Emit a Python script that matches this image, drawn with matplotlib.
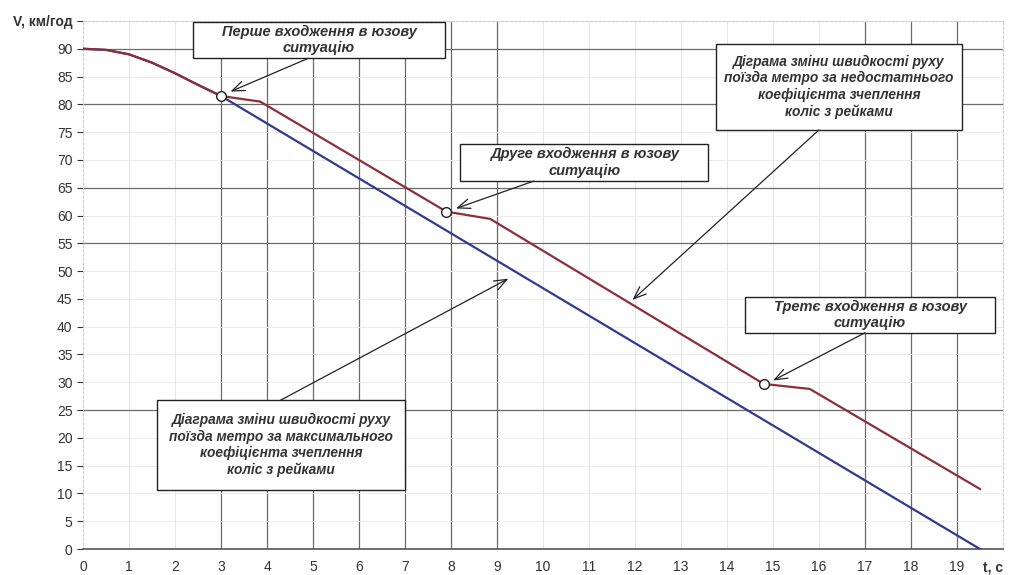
import numpy as np
import matplotlib.pyplot as plt

plt.rcParams['font.family'] = ['Liberation Sans', 'DejaVu Sans']

# швидкість при максимальному коефіцієнті зчеплення
t_max = [0, 0.5, 1, 1.5, 2, 2.5, 3, 19.5]
v_max = [90, 89.8, 89.0, 87.5, 85.6, 83.5, 81.5, 0]

# швидкість при недостатньому коефіцієнті зчеплення
t_low = [0, 0.5, 1, 1.5, 2, 2.5, 3, 3.85, 7.9, 8.85, 14.8, 15.8, 19.5]
v_low = [90, 89.8, 89.0, 87.5, 85.6, 83.5, 81.5, 80.5, 60.7, 59.4, 29.7, 28.8, 10.8]

# моменти входження в юзову ситуацію
t_skid = [3, 7.9, 14.8]
v_skid = [81.5, 60.7, 29.7]

x_ticks = list(range(0, 21))
x_labels = [str(i) for i in range(20)] + ['t, c']
y_ticks = list(range(0, 96, 5))
y_labels = [str(v) for v in range(0, 95, 5)] + ['V, км/год']

fig = plt.figure(figsize=(10.09, 5.75), dpi=100)
ax = fig.add_axes([0.0823, 0.0452, 0.9117, 0.9183])
ax.set_xlim(0, 20)
ax.set_ylim(0, 95)

# сітка: частина ліній темніша, решта ледь помітна
dark_x = [3, 4, 5, 6, 7, 8, 9, 17, 18, 19]
dark_y = [0, 25, 55, 65, 80, 90]
for x in x_ticks[1:]:
    c, lw = ('#6a6a6a', 0.9) if x in dark_x else ('#e4e4e4', 0.7)
    ax.axvline(x, color=c, lw=lw, zorder=0)
for y in y_ticks[1:]:
    c, lw = ('#6a6a6a', 0.9) if y in dark_y else ('#ececec', 0.7)
    ax.axhline(y, color=c, lw=lw, zorder=0)

for side in ['top', 'right', 'left']:
    ax.spines[side].set_color('#c8cbd8')
    ax.spines[side].set_linestyle((0, (2, 2)))
    ax.spines[side].set_linewidth(0.8)
ax.spines['bottom'].set_color('#555555')
ax.spines['bottom'].set_linewidth(1.2)

ax.set_xticks(x_ticks)
ax.set_xticklabels(x_labels)
ax.set_yticks(y_ticks)
ax.set_yticklabels(y_labels)
ax.tick_params(axis='both', labelsize=10, colors='#333333', length=4, width=0.8)
ax.tick_params(axis='x', length=0, pad=8)
lbl_t = ax.get_xticklabels()[-1]
lbl_t.set_fontweight('bold')
lbl_t.set_horizontalalignment('right')
ax.get_yticklabels()[-1].set_fontweight('bold')

ax.plot(t_max, v_max, color='#2f3b8e', lw=1.6, zorder=3)
ax.plot(t_low, v_low, color='#8c2f3c', lw=1.6, zorder=4)
ax.plot(t_skid, v_skid, 'o', ms=7, mfc='white', mec='#222222', mew=1, zorder=5)

# підписи в рамках зі стрілками: (x0, x1, y0, y1), текст, розмір, звідки, куди
notes = [
    ((2.39, 7.87, 88.3, 94.8), 'Перше входження в юзову\nситуацію', 10.5,
     (4.9, 88.3), (t_skid[0] + 0.15, v_skid[0] + 0.6)),
    ((8.2, 13.59, 66.2, 72.9), 'Друге входження в юзову\nситуацію', 10.5,
     (9.8, 66.2), (t_skid[1] + 0.15, v_skid[1] + 0.4)),
    ((13.76, 19.11, 75.4, 90.9),
     'Дiграма зміни швидкості руху\nпоїзда метро за недостатнього\nкоефіцієнта зчеплення\nколіс з рейками', 9.9,
     (16.0, 75.4), (11.9, np.interp(11.9, t_low, v_low) + 0.3)),
    ((14.39, 19.83, 38.9, 45.3), 'Третє входження в юзову\nситуацію', 10.5,
     (17.0, 38.9), (t_skid[2] + 0.15, v_skid[2] + 0.4)),
    ((1.61, 7.0, 10.6, 26.8),
     'Діаграма зміни швидкості руху\nпоїзда метро за максимального\nкоефіцієнта зчеплення\nколіс з рейками', 9.9,
     (4.3, 26.8), (9.3, np.interp(9.3, t_max, v_max) - 1.5)),
]
for (x0, x1, y0, y1), text, size, src, dst in notes:
    ax.add_patch(plt.Rectangle((x0, y0), x1 - x0, y1 - y0, facecolor='white',
                               edgecolor='#222222', lw=1.0, zorder=6))
    ax.text((x0 + x1) / 2, (y0 + y1) / 2, text, ha='center', va='center',
            fontsize=size, fontstyle='italic', fontweight='bold', color='#333333',
            linespacing=1.2, zorder=7)
    ax.annotate('', xy=dst, xytext=src, zorder=6,
                arrowprops=dict(arrowstyle='->,head_length=0.9,head_width=0.35',
                                color='#222222', lw=0.9, shrinkA=0, shrinkB=2))

plt.savefig('out.png', dpi=100, facecolor='white')
plt.close(fig)
